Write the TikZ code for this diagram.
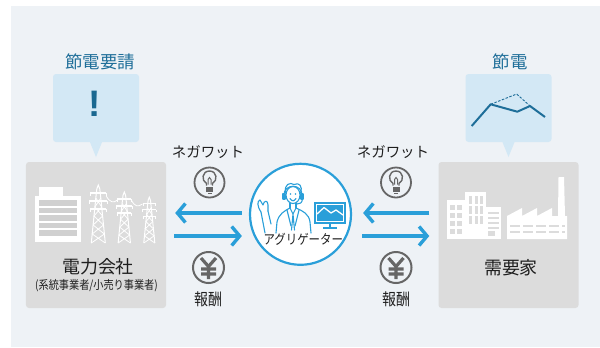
\documentclass[tikz,border=0pt]{standalone}
\usepackage{fontspec}
\newfontfamily\jpfont{Noto Sans CJK JP}
\newfontfamily\jpnarrow[FakeStretch=0.85]{Noto Sans CJK JP}
\newfontfamily\markfont{Liberation Sans}
\usetikzlibrary{arrows.meta}
\definecolor{bgcol}{HTML}{EEF2F6}
\definecolor{boxgray}{HTML}{DCDCDC}
\definecolor{stripegray}{HTML}{D0D0D0}
\definecolor{callblue}{HTML}{D3E8F5}
\definecolor{titleblue}{HTML}{1E6E99}
\definecolor{markblue}{HTML}{1A6890}
\definecolor{arrowblue}{HTML}{2A9FD9}
\definecolor{icongray}{HTML}{666666}
\definecolor{txtcol}{HTML}{1E1E1E}

\begin{document}
\begin{tikzpicture}[x=1bp,y=-1bp,
  actor/.style={fill=boxgray,rounded corners=3bp,minimum width=140bp,minimum height=146bp,inner sep=0pt},
  bubble/.style={fill=callblue,rounded corners=3bp,minimum width=86bp,minimum height=68bp,inner sep=0pt},
  titlelbl/.style={text=titleblue,font=\jpfont\fontsize{17.5}{18}\selectfont},
  partylbl/.style={text=txtcol,font=\jpfont\fontsize{18}{18}\selectfont},
  flowlbl/.style={text=txtcol,font=\jpfont\fontsize{14.5}{15}\selectfont},
  flow/.style={draw=arrowblue,line width=3.4bp,-{Straight Barb[length=8bp,width=19bp]}},
  bulb/.pic={
    \draw[icongray,line width=1.8bp] (0,0) circle[radius=15bp];
    \draw[icongray,line width=1.4bp] (-3,3) -- (-3,1) .. controls (-8.5,-2) and (-7.5,-11.5) .. (0,-11.5)
      .. controls (7.5,-11.5) and (8.5,-2) .. (3,1) -- (3,3);
    \draw[icongray,line width=1bp] (-1.5,2) -- (-1.5,-3) -- (0,-5) -- (1.5,-3) -- (1.5,2);
    \fill[icongray] (-3.5,4.5) rectangle (3.5,9.5);
    \fill[icongray] (-2,10) rectangle (2,11.5);
  },
  yen/.pic={
    \draw[icongray,line width=2bp] (0,0) circle[radius=15.5bp];
    \draw[icongray,line width=3.2bp] (-7.5,-9.5) -- (0,-1) -- (7.5,-9.5) (0,-1) -- (0,11.5)
      (-7.5,1.5) -- (7.5,1.5) (-7.5,6.5) -- (7.5,6.5);
  },
  pylon/.pic={
    \draw[white,line width=1bp] (-7,0) -- (-2.5,-45) -- (-1.5,-54) -- (0,-58) -- (1.5,-54) -- (2.5,-45) -- (7,0);
    \draw[white,line width=0.8bp] (-7,0) -- (6.1,-9) -- (-5.2,-18) -- (4.3,-27) -- (-3.4,-36) -- (2.5,-45)
      (7,0) -- (-6.1,-9) -- (5.2,-18) -- (-4.3,-27) -- (3.4,-36) -- (-2.5,-45);
    \draw[white,line width=1.2bp] (-8,-50) -- (8,-50) (-9,-42) -- (9,-42) (-8,-34) -- (8,-34);
    \draw[white,line width=0.8bp] (-8,-50) -- (-8,-47) (8,-50) -- (8,-47) (-9,-42) -- (-9,-39)
      (9,-42) -- (9,-39) (-8,-34) -- (-8,-31) (8,-34) -- (8,-31);
  }]
\useasboundingbox (0,0) rectangle (600,347);
\fill[white] (0,0) rectangle (600,347);
\fill[bgcol] (11,6) rectangle (600,347);

% the two parties
\node[actor] (utility) at (96,235) {};
\node[actor] (demand) at (508.5,235) {};

% speech bubbles
\node[bubble] (request) at (96,108) {};
\fill[callblue] ([xshift=-6bp]request.south) -- (96,157) -- ([xshift=6bp]request.south) -- cycle;
\node[bubble] (saving) at (508.5,108) {};
\fill[callblue] ([xshift=-6bp]saving.south) -- (508.5,157) -- ([xshift=6bp]saving.south) -- cycle;

\node[titlelbl] (requestlbl) at (100,62) {節電要請};
\node[titlelbl] (savinglbl) at (510,62) {節電};
\node[text=markblue,font=\markfont\bfseries\fontsize{37}{37}\selectfont] (alert) at (95,104) {!};

% load curve, before and after
\draw[titleblue,line width=0.9bp,dash pattern=on 2.5bp off 1.5bp] (490.7,104.3) -- (516.7,94) -- (530,106);
\draw[titleblue,line width=2bp,line join=round] (471.7,126) -- (490.7,104.3) -- (517.3,111.7) -- (530,106) -- (545,117);

% office block
\fill[white] (39,187) rectangle (63,197);
\fill[white] (35,196) rectangle (81,242);
\foreach \k in {0,...,4}
  \fill[stripegray] (39,{200+7.5*\k}) rectangle (77,{205.5+7.5*\k});

% power lines
\pic at (98.3,243) {pylon};
\pic[scale=0.88] at (124.3,243) {pylon};
\pic[scale=0.79] at (149.3,243) {pylon};
\draw[white,line width=0.8bp] (106.3,196) .. controls (110,203) and (114,203) .. (117.3,200);
\draw[white,line width=0.8bp] (131.3,200) .. controls (135,207) and (138,207) .. (142.5,204);

% buildings and factory
\fill[white] (447,200) rectangle (466,239);
\foreach \i in {450,457}
  \foreach \j in {205,213,221,229}
    \fill[boxgray] (\i,\j) rectangle ++(4.5,5);
\fill[white] (465,192) rectangle (486,239);
\foreach \i in {469,474.5,480}
  \foreach \j in {196,206,216}
    \fill[boxgray] (\i,\j) rectangle ++(3,8);
\fill[white] (485,207) rectangle (501,239);
\foreach \j in {212,217,222,227}
  \fill[boxgray] (488,\j) rectangle (499,{\j+2});
\fill[boxgray] (488,231) rectangle (495,236);
\fill[white] (507,239) -- (507,216) -- (522,208) -- (522,216) -- (537,208) -- (537,216) -- (552,208)
  -- (552,216) -- (558,216) -- (558.5,177) -- (564,177) -- (565,216) -- (567,216) -- (567,239) -- cycle;
\draw[boxgray,line width=2bp,dash pattern=on 10bp off 3bp] (510,226) -- (565,226) (510,232) -- (565,232);

% aggregator in the middle
\node[circle,draw=arrowblue,line width=2.2bp,fill=white,minimum size=101bp,inner sep=0pt] (agg) at (300.5,214.3) {};
\begin{scope}[arrowblue,line width=1.1bp,line cap=round,line join=round]
  \draw (293,195) ellipse[x radius=7bp,y radius=8.5bp];
  \draw (285.5,193) .. controls (284,184) and (290,182) .. (294,184.5) .. controls (299,182) and (303,186) .. (300.5,193);
  \draw (284,196) .. controls (283,183) and (303,183) .. (302,196);
  \draw (283,194) rectangle (285,199) (301,194) rectangle (303,199);
  \draw (302.5,199) .. controls (302,203) and (300,204) .. (297,204);
  \fill (290.5,194) circle[radius=0.8bp] (295.5,194) circle[radius=0.8bp];
  \draw (290,198.5) .. controls (292,201.5) and (294,201.5) .. (296,198.5);
  \draw (290,203) -- (290,208) (296,203) -- (296,208);
  \draw (276,233) -- (277,222) .. controls (279,214) and (284,211) .. (290,208);
  \draw (296,208) .. controls (303,211) and (309,214) .. (310,222) -- (311,233);
  \draw (290,208) -- (293,214) -- (296,208) (293,214) -- (291.5,230) (293,214) -- (294.5,230);
  \draw (287,210) -- (291,226) (299,210) -- (295,226);
  \draw (261,212) -- (265,233) (268,211) -- (271,224);
  \draw (261,212) .. controls (257,206) and (257,201) .. (260,200) -- (263,205)
    .. controls (264,200) and (268,200) .. (268,205) -- (268,211);
\end{scope}
\fill[arrowblue] (314,202) rectangle (346,224);
\draw[white,line width=0.6bp] (316.5,204.5) rectangle (343.5,221.5);
\draw[white,line width=1.3bp,line join=round] (317,214) -- (324,207.5) -- (331,213) -- (336,210) -- (343,215);
\draw[arrowblue,line width=1.4bp] (330,224) -- (330,228) (323,228) -- (337,228);
\node[text=txtcol,font=\jpnarrow\fontsize{13.5}{14}\selectfont] (agglbl) at (303.3,239.3) {アグリゲーター};

% negawatt goes one way, the reward the other
\draw[flow,shorten <=7bp,shorten >=9bp] (agg.west |- 0,213) -- (utility.east |- 0,213);
\draw[flow,shorten <=8bp,shorten >=7bp] (utility.east |- 0,236) -- (agg.west |- 0,236);
\draw[flow,shorten <=9bp,shorten >=11bp] (demand.west |- 0,213) -- (agg.east |- 0,213);
\draw[flow,shorten <=10bp,shorten >=9bp] (agg.east |- 0,236) -- (demand.west |- 0,236);

\node[flowlbl] (negaL) at (208,152) {ネガワット};
\node[flowlbl] (negaR) at (393,152) {ネガワット};
\pic at (209.5,182.5) {bulb};
\pic at (396,182.5) {bulb};
\pic at (208.5,267.5) {yen};
\pic at (396,267.5) {yen};
\node[text=txtcol,font=\jpnarrow\fontsize{16.5}{17}\selectfont] (payL) at (208,299) {報酬};
\node[text=txtcol,font=\jpnarrow\fontsize{16.5}{17}\selectfont] (payR) at (396,299) {報酬};

\node[partylbl] (utilitylbl) at (98,267) {電力会社};
\node[text=txtcol,font=\jpnarrow\fontsize{12}{12}\selectfont] (utilitysub) at (96.5,286) {(系統事業者/小売り事業者)};
\node[partylbl] (demandlbl) at (511,268) {需要家};
\end{tikzpicture}
\end{document}
